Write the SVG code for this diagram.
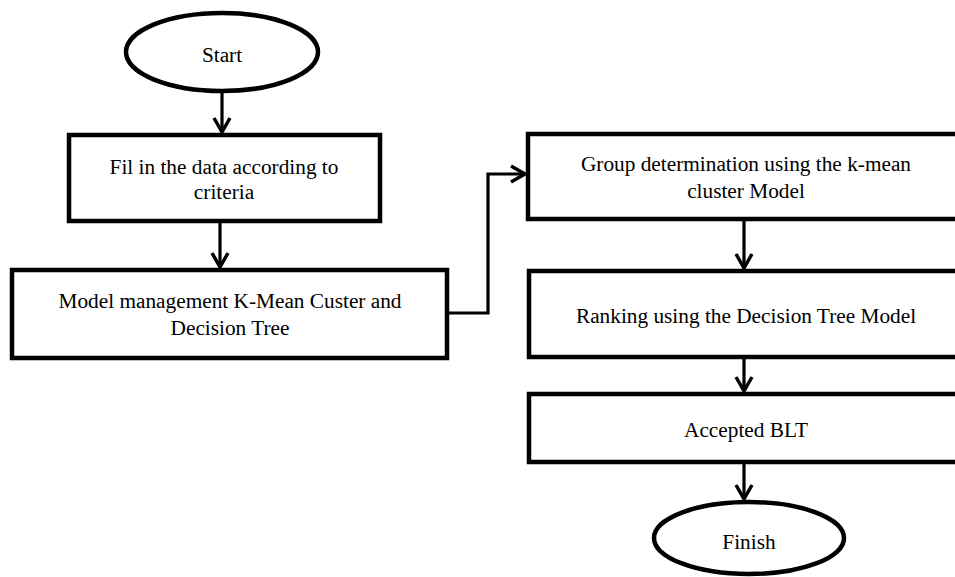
<svg xmlns="http://www.w3.org/2000/svg" width="955" height="577" viewBox="0 0 955 577">
<style>
.shape{fill:#fff;stroke:#000;stroke-width:4.5}
.t{font-family:"Liberation Serif","Times New Roman",serif;font-size:21.3px;fill:#000;text-anchor:middle}
.c{fill:none;stroke:#000;stroke-width:3.2}
</style>
<defs>
<marker id="arr" markerUnits="userSpaceOnUse" markerWidth="24" markerHeight="24" viewBox="-18 -12 22 24" refX="0" refY="0" orient="auto">
<path d="M-14,-8 L0,0 L-14,8" fill="none" stroke="#000" stroke-width="3.5" stroke-linejoin="miter"/>
</marker>
</defs>
<rect width="955" height="577" fill="#fff"/>
<g id="start">
<ellipse class="shape" cx="222" cy="52" rx="96" ry="39"/>
<text class="t" x="222" y="62">Start</text>
</g>
<g id="fill-data">
<rect class="shape" x="69" y="135" width="311" height="86"/>
<text class="t" x="224" y="174">Fil in the data according to</text>
<text class="t" x="224" y="199">criteria</text>
</g>
<g id="model-management">
<rect class="shape" x="12" y="270" width="435" height="88"/>
<text class="t" x="230" y="308">Model management K-Mean Custer and</text>
<text class="t" x="230" y="335">Decision Tree</text>
</g>
<g id="group-determination">
<rect class="shape" x="528" y="134" width="440" height="85"/>
<text class="t" x="746" y="171">Group determination using the k-mean</text>
<text class="t" x="746" y="198">cluster Model</text>
</g>
<g id="ranking">
<rect class="shape" x="529" y="271" width="440" height="86"/>
<text class="t" x="746" y="323">Ranking using the Decision Tree Model</text>
</g>
<g id="accepted">
<rect class="shape" x="529" y="394" width="440" height="68"/>
<text class="t" x="746" y="437">Accepted BLT</text>
</g>
<g id="finish">
<ellipse class="shape" cx="749" cy="538" rx="95" ry="36"/>
<text class="t" x="749" y="549">Finish</text>
</g>
<g id="connectors">
<line class="c" x1="222" y1="93" x2="222" y2="132" marker-end="url(#arr)"/>
<line class="c" x1="220" y1="221" x2="220" y2="267" marker-end="url(#arr)"/>
<path class="c" d="M447,313 H488 V174 H525" marker-end="url(#arr)"/>
<line class="c" x1="744" y1="219" x2="744" y2="268" marker-end="url(#arr)"/>
<line class="c" x1="744" y1="357" x2="744" y2="391" marker-end="url(#arr)"/>
<line class="c" x1="744" y1="462" x2="744" y2="499" marker-end="url(#arr)"/>
</g>
</svg>
